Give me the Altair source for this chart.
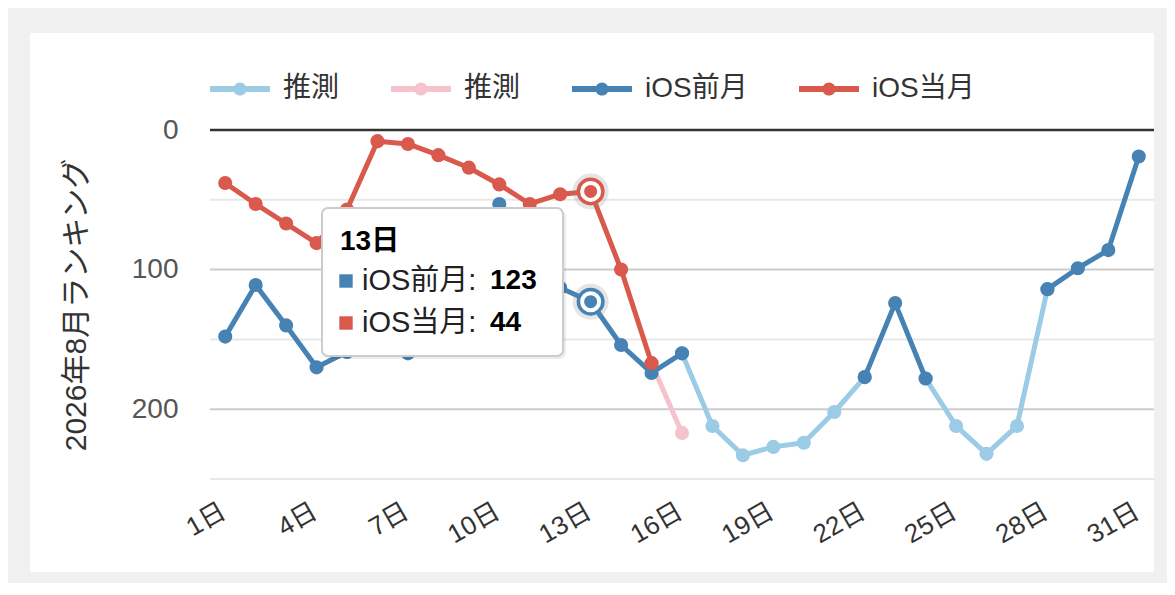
import altair as alt
import pandas as pd

# ---------------- data ----------------
days = list(range(1, 32))
tick_days = [1, 4, 7, 10, 13, 16, 19, 22, 25, 28, 31]

ios_prev = [148, 111, 140, 170, 159, 150, 160, 128, 92, 53, 88, 113, 123, 154, 174, 160,
            None, None, None, None, None, 177, 124, 178, None, None, None, 114, 99, 86, 19]
ios_cur = [38, 53, 67, 81, 57, 8, 10, 18, 27, 39, 53, 46, 44, 100, 167] + [None] * 16
pred_prev = [None] * 15 + [160, 212, 233, 227, 224, 202, 177, None, 178, 212, 232, 212, 114,
                           None, None, None]
pred_cur = [None] * 14 + [167, 217] + [None] * 15

series_names = ["推測A", "推測B", "iOS前月", "iOS当月"]
series_colors = ["#9ccbe6", "#f6c2cd", "#4682b4", "#d9594c"]
series_values = [pred_prev, pred_cur, ios_prev, ios_cur]

grid_values = [0, 50, 100, 150, 200, 250]
hl_day = 13

FONT = "Liberation Sans, Noto Sans CJK JP, sans-serif"

# long table with path segments (gaps break lines)
rows = []
seg = 0
for name, vals in zip(series_names, series_values):
    prev_ok = False
    for d, v in zip(days, vals):
        if v is None:
            prev_ok = False
            continue
        if not prev_ok:
            seg += 1
        rows.append({"day": d, "rank": v, "series": name, "seg": seg})
        prev_ok = True
df = pd.DataFrame(rows)

grid_df = pd.DataFrame({
    "rank": grid_values,
    "gc": ["#333333" if g == 0 else ("#cccccc" if g % 100 == 0 else "#e8e8e8") for g in grid_values],
    "gw": [2.5 if g == 0 else 2 for g in grid_values],
})

one = pd.DataFrame({"k": [0]})

# ---------------- encodings ----------------
color_scale = alt.Scale(domain=series_names, range=series_colors)

x_enc = alt.X(
    "day:Q",
    scale=alt.Scale(domain=[0.5, 31.5], nice=False, zero=False),
    axis=alt.Axis(values=tick_days, labelExpr="datum.value + '日'", grid=False, ticks=False,
                  domain=False, labelAngle=-30, labelAlign="right", labelBaseline="middle",
                  labelFontSize=26, labelColor="#333333", labelFont=FONT, labelPadding=30,
                  labelOffset=-2, zindex=1),
    title=None,
)
y_enc = alt.Y(
    "rank:Q",
    scale=alt.Scale(domain=[0, 250], reverse=True, nice=False, zero=False),
    axis=alt.Axis(values=[0, 100, 200], grid=False, ticks=False, domain=False,
                  labelFontSize=28, labelColor="#555555", labelFont=FONT, labelPadding=32,
                  titleFontSize=30, titleColor="#333333", titleFont=FONT,
                  titleFontWeight="normal", titlePadding=40, zindex=1),
    title="2026年8月ランキング",
)

SYMBOL = ("M-1,-0.1H1V0.1H-1Z "
          "M-0.22,0A0.22,0.22 0 1,1 0.22,0A0.22,0.22 0 1,1 -0.22,0Z")

legend = alt.Legend(
    title=None, orient="none", legendX=0, legendY=-71, direction="horizontal",
    symbolType=SYMBOL, symbolSize=3600, symbolStrokeWidth=0, symbolOpacity=1,
    labelFontSize=28, labelFont=FONT, labelColor="#333333", labelOffset=13,
    columnPadding=51, labelExpr="slice(datum.label, 0, 2) == '推測' ? '推測' : datum.label",
    zindex=1,
)

# ---------------- layers ----------------
card = alt.Chart(one).mark_rect(color="white").encode(
    x=alt.value(-180), x2=alt.value(944), y=alt.value(-97), y2=alt.value(442)
)

grid = alt.Chart(grid_df).mark_rule().encode(
    y=y_enc,
    color=alt.Color("gc:N", scale=None),
    strokeWidth=alt.StrokeWidth("gw:Q", scale=None),
)


def series_layers(names):
    sub = df[df["series"].isin(names)]
    line = alt.Chart(sub).mark_line(strokeWidth=5, strokeCap="round", strokeJoin="round").encode(
        x=x_enc, y=y_enc,
        color=alt.Color("series:N", scale=color_scale, legend=legend),
        detail="seg:N",
    )
    pts = alt.Chart(sub).mark_point(filled=True, size=200, opacity=1).encode(
        x=x_enc, y=y_enc,
        color=alt.Color("series:N", scale=color_scale, legend=legend),
    )
    return [line, pts]


layers = [card, grid]
layers += series_layers(["推測A", "推測B"])
layers += series_layers(["iOS前月"])
layers += series_layers(["iOS当月"])

# highlighted points for the hovered day
hl_vals = [ios_prev[hl_day - 1], ios_cur[hl_day - 1]]
hl_cols = [series_colors[2], series_colors[3]]
for v, col in zip(hl_vals, hl_cols):
    hdf = pd.DataFrame({"day": [hl_day], "rank": [v]})
    base = alt.Chart(hdf)
    layers.append(base.mark_point(filled=True, size=1300, color="#888888", opacity=0.22).encode(x=x_enc, y=y_enc))
    layers.append(base.mark_point(filled=True, size=600, fill="white", stroke=col, strokeWidth=3.5,
                                  opacity=1).encode(x=x_enc, y=y_enc))
    layers.append(base.mark_point(filled=True, size=170, color=col, opacity=1).encode(x=x_enc, y=y_enc))

# tooltip box
TX0, TX1, TY0, TY1 = 112, 353, 78, 226
tip = alt.Chart(one)
layers.append(tip.mark_rect(color="#000000", opacity=0.08, cornerRadius=7).encode(
    x=alt.value(TX0 + 1), x2=alt.value(TX1 + 3), y=alt.value(TY0 + 2), y2=alt.value(TY1 + 3)))
layers.append(tip.mark_rect(fill="white", stroke="#cccccc", strokeWidth=2, cornerRadius=6).encode(
    x=alt.value(TX0), x2=alt.value(TX1), y=alt.value(TY0), y2=alt.value(TY1)))
layers.append(tip.mark_text(align="left", baseline="middle", fontSize=28, fontWeight="bold",
                            font=FONT, color="#000000").encode(
    x=alt.value(130), y=alt.value(112), text=alt.value(f"{hl_day}日")))

row_y = [151, 193]
row_names = ["iOS前月", "iOS当月"]
for ry, nm, v, col in zip(row_y, row_names, hl_vals, hl_cols):
    layers.append(tip.mark_point(shape="square", filled=True, size=180, color=col, opacity=1).encode(
        x=alt.value(136), y=alt.value(ry)))
    layers.append(tip.mark_text(align="left", baseline="middle", fontSize=29, font=FONT,
                                color="#222222").encode(
        x=alt.value(152), y=alt.value(ry), text=alt.value(f"{nm}:")))
    layers.append(tip.mark_text(align="left", baseline="middle", fontSize=28, fontWeight="bold",
                                font=FONT, color="#000000").encode(
        x=alt.value(280), y=alt.value(ry), text=alt.value(str(v))))

chart = alt.layer(*layers).properties(
    width=944,
    height=349,
    padding={"left": 202, "top": 122, "right": 13, "bottom": 104},
    autosize=alt.AutoSizeParams(type="none"),
    background="#f0f0f0",
).configure_view(strokeWidth=0)

chart.save("out.html", embed_options={"renderer": "svg", "actions": False})
